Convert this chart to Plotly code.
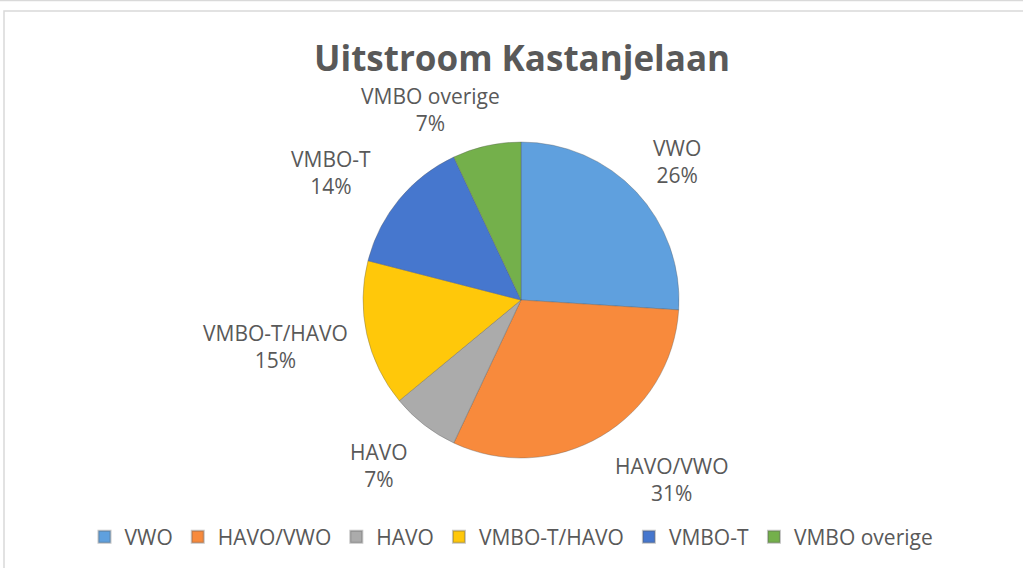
import plotly.graph_objects as go

categories = ["VWO", "HAVO/VWO", "HAVO", "VMBO-T/HAVO", "VMBO-T", "VMBO overige"]
values = [26, 31, 7, 15, 14, 7]
colors = ["#5FA0DE", "#F88A3C", "#ABABAB", "#FFC80A", "#4677CE", "#74B04B"]

W, H = 1023, 568
# pie geometry in pixels
cx, cy, r = 521, 300, 158

# label centres (pixels) in the same order as categories
label_px = [(677, 161), (672, 479), (379, 465), (275, 346), (331, 172), (430, 110)]

total = sum(values)
pct = [round(v / total * 100) for v in values]

fig = go.Figure(
    go.Pie(
        labels=categories,
        values=values,
        sort=False,
        direction="clockwise",
        rotation=0,
        textinfo="none",
        hoverinfo="label+percent",
        marker=dict(colors=colors, line=dict(color="rgba(90,90,90,0.35)", width=1)),
        domain=dict(x=[(cx - r) / W, (cx + r) / W], y=[1 - (cy + r) / H, 1 - (cy - r) / H]),
    )
)

annotations = []
for (lx, ly), cat, p in zip(label_px, categories, pct):
    annotations.append(
        dict(
            x=lx / W, y=1 - ly / H, xref="paper", yref="paper",
            text=f"{cat}<br>{p}%", showarrow=False,
            xanchor="center", yanchor="middle",
            font=dict(family="Open Sans", size=21, color="#595959"),
        )
    )
annotations.append(
    dict(
        x=522 / W, y=1 - 58 / H, xref="paper", yref="paper",
        text="<b>Uitstroom Kastanjelaan</b>", showarrow=False,
        xanchor="center", yanchor="middle",
        font=dict(family="Open Sans", size=35, color="#595959"),
    )
)

fig.update_layout(
    width=W, height=H,
    margin=dict(l=0, r=0, t=0, b=0),
    paper_bgcolor="white",
    plot_bgcolor="white",
    showlegend=True,
    legend=dict(
        orientation="h", x=0.5, xanchor="center", y=1 - 537 / H, yanchor="middle",
        font=dict(family="Open Sans", size=21, color="#595959"),
        itemsizing="constant",
    ),
    annotations=annotations,
    shapes=[
        dict(type="rect", xref="paper", yref="paper", x0=4 / W, x1=1.05, y0=-0.05, y1=1 - 11 / H,
             line=dict(color="#D9D9D9", width=1.5), fillcolor="rgba(0,0,0,0)", layer="below"),
        dict(type="line", xref="paper", yref="paper", x0=0, x1=1, y0=1 - 0.5 / H, y1=1 - 0.5 / H,
             line=dict(color="#D9D9D9", width=1.5)),
    ],
)

fig.write_html(
    "out.html",
    config={"displayModeBar": False},
    post_script="document.body.style.margin='0';document.body.style.overflow='hidden';",
)
